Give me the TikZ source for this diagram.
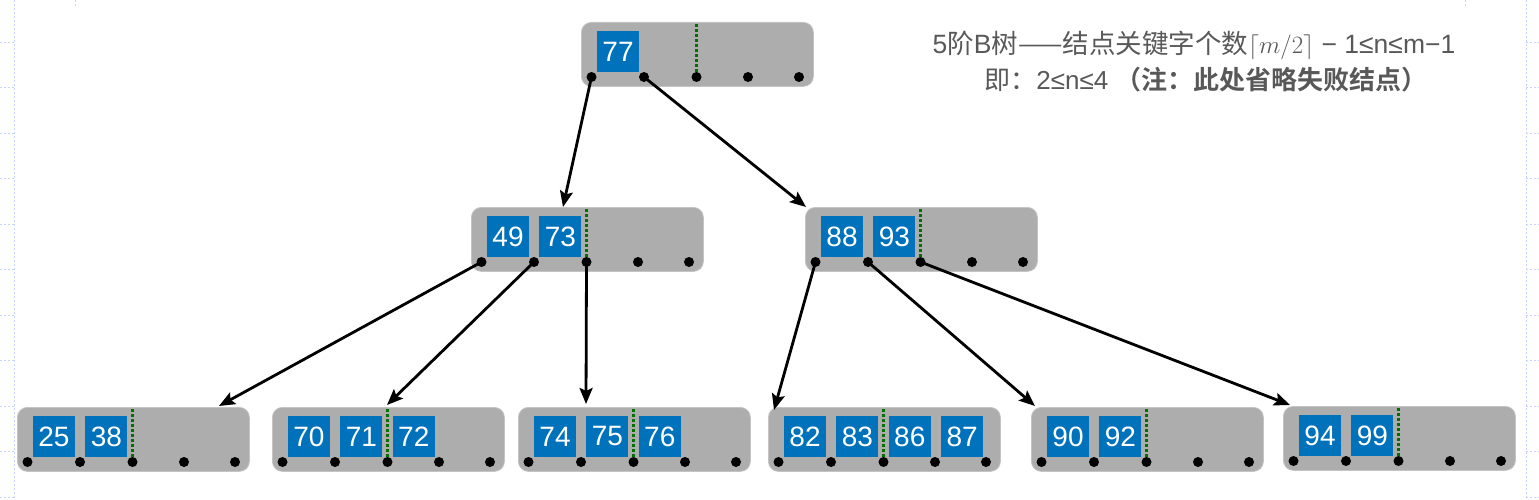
\documentclass[tikz,border=0pt]{standalone}
\usepackage{fontspec}
\setmainfont{Liberation Sans}
\newfontfamily\cjk{Noto Sans CJK SC}[BoldFont={Noto Sans CJK SC Bold}]
\usetikzlibrary{arrows.meta,calc}
\definecolor{boxgray}{RGB}{173,173,173}
\definecolor{boxedge}{RGB}{196,196,196}
\definecolor{keyblue}{RGB}{0,114,187}
\definecolor{gdark}{RGB}{0,112,0}
\definecolor{tgray}{RGB}{88,88,88}
\definecolor{gridc}{RGB}{200,212,255}
\tikzset{
  bbox/.style={rectangle, rounded corners=10pt, fill=boxgray, draw=boxedge, line width=0.8pt,
    minimum width=232pt, minimum height=64pt, inner sep=0pt},
  keybox/.style={rectangle, fill=keyblue, minimum width=42pt, minimum height=41pt, inner sep=0pt,
    text=white, font=\fontsize{28}{28}\selectfont},
  gline/.style={draw=gdark, line width=2.6pt, dash pattern=on 3pt off 2pt},
  arr/.style={-{Stealth[length=16pt,width=13pt,inset=3pt]}, line width=2.8pt, black},
  gridl/.style={draw=gridc, line width=0.9pt, dash pattern=on 2pt off 2pt},
  title/.style={text=tgray, inner sep=0pt}
}
\newcommand\btn[4]{%
  \node[bbox, anchor=north west] (#1) at (#2,#3) {};
  \foreach \i/\dx in {1/10.5,2/63,3/115.5,4/167,5/218}
    \coordinate (#1d\i) at ($(#1.north west)+(\dx,55)$);
  \draw[gline] ($(#1.north west)+(115.5,2)$) -- (#1d3);
  \foreach \k [count=\c] in {#4}
    \node[keybox] (#1k\c) at ($(#1.north west)+({37+52.4*(\c-1)},29.5)$) {\k};
  \foreach \i in {1,...,5} \fill (#1d\i) circle (5);
}
\begin{document}
\begin{tikzpicture}[x=1pt,y=-1pt]
\useasboundingbox (0,0) rectangle (1539,500);
% faint slide grid
\draw[gridl] (14,0) -- (14,500);
\draw[gridl] (1526,0) -- (1526,500);
\foreach \k in {0,...,10} {
  \draw[gridl] (0,{42+45.5*\k}) -- (14,{42+45.5*\k});
  \draw[gridl] (1526,{42+45.5*\k}) -- (1539,{42+45.5*\k});
}
\draw[gridl] (75,0) -- (75,7);
\draw[gridl] (1465,0) -- (1465,7);

% tree nodes
\btn{T}{581}{22}{77}
\btn{ML}{471}{207}{49,73}
\btn{MR}{805}{207}{88,93}
\btn{LA}{17}{407}{25,38}
\btn{LB}{272}{407}{70,71,72}
\btn{LC}{518}{407}{74,75,76}
\btn{LD}{768}{407}{82,83,86,87}
\btn{LE}{1031}{407}{90,92}
\btn{LF}{1283}{406}{94,99}

% connectors
\draw[arr] (Td1) -- ($(ML.north west)+(92,0)$);
\draw[arr] (Td2) -- ($(MR.north west)+(1,0)$);
\draw[arr] (MLd1) -- ($(LA.north west)+(202,-1)$);
\draw[arr] (MLd2) -- ($(LB.north west)+(115,-2)$);
\draw[arr] (MLd3) -- ($(LC.north west)+(68,-3)$);
\draw[arr] (MRd1) -- ($(LD.north west)+(6,3)$);
\draw[arr] (MRd2) -- ($(LE.north west)+(4,-1)$);
\draw[arr] (MRd3) -- ($(LF.north west)+(7,-1)$);

% caption
\node[title, font=\fontsize{26.5}{30}\selectfont] (cap1) at (1194,45) {5{\cjk 阶}B{\cjk 树——结点关键字个数}$\lceil m/2\rceil$ − 1≤n≤m−1};
\node[title, font=\fontsize{26}{30}\selectfont] (cap2) at (1206,80) {{\cjk 即：}2≤n≤4 {\cjk\bfseries （注：此处省略失败结点）}};
\end{tikzpicture}
\end{document}
